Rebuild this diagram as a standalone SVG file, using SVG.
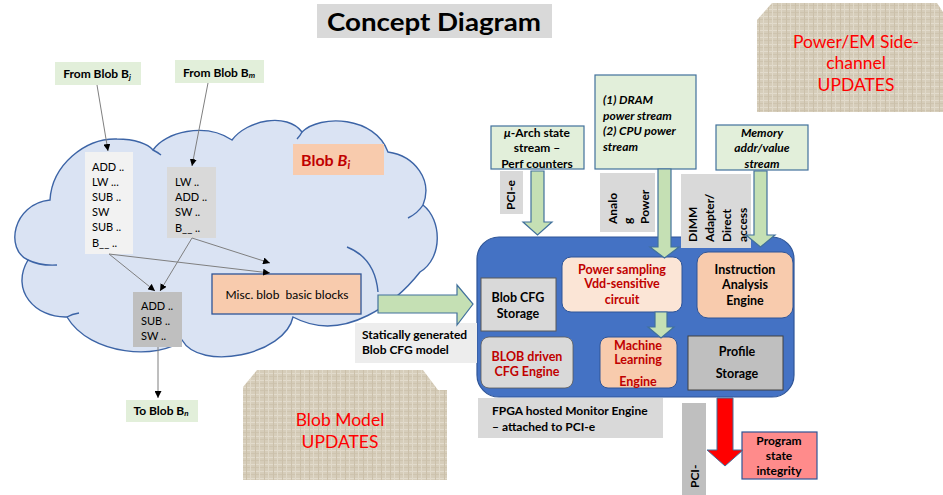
<svg xmlns="http://www.w3.org/2000/svg" width="943" height="495" viewBox="0 0 943 495">
  <defs>
    <style>
      text { font-family: Lato, "Liberation Sans", sans-serif; fill: #000; }
      .b { font-weight: bold; }
      .i { font-style: italic; }
      .red { fill: #c00000; }
      .c { text-anchor: middle; }
      .op { font-size: 11px; }
      .lbl { font-size: 12px; font-weight: bold; }
      .eng { font-size: 12.5px; font-weight: bold; }
      .upd { font-size: 17.5px; fill: #ff0000; text-anchor: middle; }
      .thin { stroke: #7f7f7f; stroke-width: 1; fill: none; marker-end: url(#tip); }
      .garrow { fill: #c5e0b4; stroke: #41719c; stroke-width: 1.2; }
      .tag { fill: #d9d9d9; }
      .seed { fill: #e2efda; stroke: #41719c; stroke-width: 1.2; }
      .cloudtail { fill: none; stroke: #3c64a6; stroke-width: 1.4; }
    </style>
    <marker id="tip" viewBox="0 0 10 10" refX="10" refY="5" markerWidth="7" markerHeight="7" orient="auto" markerUnits="userSpaceOnUse">
      <path d="M0,0 L10,5 L0,10 z" fill="#000"/>
    </marker>
    <!-- burlap-like woven texture -->
    <pattern id="weave" width="9" height="7" patternUnits="userSpaceOnUse">
      <rect width="9" height="7" fill="#d6cdba"/>
      <rect x="0" y="2" width="9" height="1" fill="#e2dbcc"/>
      <rect x="0" y="5" width="9" height="1" fill="#cec4af"/>
      <rect x="3" y="0" width="1" height="7" fill="#cbc0aa"/>
      <rect x="7" y="0" width="1" height="7" fill="#e0d9c9"/>
    </pattern>
  </defs>

  <rect width="943" height="495" fill="#fff"/>

  <!-- title -->
  <g id="title">
    <rect x="317" y="4" width="235" height="34" fill="#d9d9d9"/>
    <text x="434" y="31" class="b c" font-size="25" textLength="214" lengthAdjust="spacingAndGlyphs">Concept Diagram</text>
  </g>

  <!-- textured update notes -->
  <g id="note-power">
    <path d="M772,3 L937,3 L943,12 L943,112 L757,112 L757,20 Z" fill="url(#weave)"/>
    <text class="upd" x="856" y="48">Power/EM Side-</text>
    <text class="upd" x="856" y="69">channel</text>
    <text class="upd" x="856" y="91">UPDATES</text>
  </g>
  <g id="note-blob">
    <path d="M257,370 L423,370 L438,390 L447,390 L447,480 L243,480 L243,387 Z" fill="url(#weave)"/>
    <text class="upd" x="340" y="426">Blob Model</text>
    <text class="upd" x="340" y="448">UPDATES</text>
  </g>

  <!-- blob cloud -->
  <g id="cloud">
    <path d="M50,200 C52,165 85,138 117,139 C135,139 148,144 153,150 C165,132 205,122 232,140 C247,120 287,112 302,132 C320,114 375,116 388,152 C415,156 433,180 423,205 C442,220 443,258 420,272 C398,300 345,345 293,317 C285,355 200,372 182,340 C160,360 90,356 67,317 C35,318 10,290 28,260 C5,250 12,204 50,200 Z" fill="#dae3f3" stroke="#3c64a6" stroke-width="1.4"/>
    <path class="cloudtail" d="M28,260 Q40,266 57,265"/>
    <path class="cloudtail" d="M67,317 Q72,314 79,313"/>
    <path class="cloudtail" d="M153,150 Q157,152 161,155"/>
    <path class="cloudtail" d="M302,132 Q300,136 297,139"/>
    <path class="cloudtail" d="M423,205 Q418,213 408,218"/>
    <path class="cloudtail" d="M347,247 Q375,258 378,292"/>
  </g>

  <!-- blob Bi tag -->
  <g id="blob-bi">
    <rect x="293" y="144" width="91" height="31" fill="#f8cbad"/>
    <text x="301" y="166" class="b red" font-size="16">Blob <tspan class="i">B</tspan><tspan class="i" font-size="11" dy="3">i</tspan></text>
  </g>

  <!-- incoming / outgoing blob labels -->
  <g id="from-bj">
    <rect x="55" y="62" width="86" height="23" fill="#e2efda"/>
    <text x="97" y="78" class="lbl c">From Blob B<tspan class="i" font-size="8" dy="2">j</tspan></text>
  </g>
  <g id="from-bm">
    <rect x="175" y="60" width="89" height="23" fill="#e2efda"/>
    <text x="219" y="77" class="lbl c">From Blob B<tspan class="i" font-size="8" dy="1">m</tspan></text>
  </g>
  <g id="to-bn">
    <rect x="126" y="400" width="72" height="22" fill="#e2efda"/>
    <text x="161" y="415" class="lbl c">To Blob B<tspan class="i" font-size="8" dy="1">n</tspan></text>
  </g>

  <!-- basic blocks -->
  <g id="block-1">
    <rect x="85" y="152" width="48" height="102" fill="#f2f2f2"/>
    <text class="op" x="92" y="171">ADD ..</text>
    <text class="op" x="92" y="186">LW ...</text>
    <text class="op" x="92" y="201">SUB ..</text>
    <text class="op" x="92" y="216">SW</text>
    <text class="op" x="92" y="231">SUB ..</text>
    <text class="op" x="92" y="247">B__ ..</text>
  </g>
  <g id="block-2">
    <rect x="167" y="167" width="49" height="71" fill="#d9d9d9"/>
    <text class="op" x="175" y="186">LW ..</text>
    <text class="op" x="175" y="201">ADD ..</text>
    <text class="op" x="175" y="216">SW ..</text>
    <text class="op" x="175" y="232">B__ ..</text>
  </g>
  <g id="block-3">
    <rect x="133" y="292" width="49" height="55" fill="#bfbfbf"/>
    <text class="op" x="141" y="310">ADD ..</text>
    <text class="op" x="141" y="325">SUB ..</text>
    <text class="op" x="141" y="340">SW ..</text>
  </g>
  <g id="misc-blocks">
    <rect x="212" y="274" width="149" height="40" fill="#f8cbad" stroke="#2f5597" stroke-width="1.3"/>
    <text x="287" y="299" class="c" font-size="12">Misc. blob&#160; basic blocks</text>
  </g>

  <!-- FPGA monitor engine -->
  <g id="fpga">
    <rect x="477" y="237" width="317" height="160" rx="22" fill="#4472c4" stroke="#2f5597" stroke-width="1.2"/>
  </g>
  <g id="cfg-storage">
    <rect x="481" y="278" width="75" height="53" fill="#d9d9d9" stroke="#595959" stroke-width="1"/>
    <text x="518" y="302" class="eng c">Blob CFG</text>
    <text x="518" y="318" class="eng c">Storage</text>
  </g>
  <g id="cfg-engine">
    <rect x="481" y="337" width="92" height="51" rx="8" fill="#d9d9d9" stroke="#595959" stroke-width="0.8"/>
    <text x="527" y="361" class="eng c red">BLOB driven</text>
    <text x="527" y="376" class="eng c red">CFG Engine</text>
  </g>
  <g id="power-sampling">
    <rect x="562" y="257" width="120" height="55" rx="9" fill="#fbe5d6" stroke="#2f5597" stroke-width="1"/>
    <text x="622" y="274" class="eng c red">Power sampling</text>
    <text x="622" y="288" class="eng c red">Vdd-sensitive</text>
    <text x="622" y="304" class="eng c red">circuit</text>
  </g>
  <g id="instr-engine">
    <rect x="697" y="252" width="96" height="66" rx="11" fill="#f8cbad" stroke="#2f5597" stroke-width="1"/>
    <text x="745" y="274" class="eng c">Instruction</text>
    <text x="745" y="289" class="eng c">Analysis</text>
    <text x="745" y="305" class="eng c">Engine</text>
  </g>
  <g id="ml-engine">
    <rect x="600" y="337" width="77" height="51" rx="8" fill="#f8cbad" stroke="#2f5597" stroke-width="1"/>
    <text x="638" y="350" class="eng c red">Machine</text>
    <text x="638" y="364" class="eng c red">Learning</text>
    <text x="638" y="386" class="eng c red">Engine</text>
  </g>
  <g id="profile-storage">
    <rect x="688" y="336" width="95" height="54" fill="#bfbfbf" stroke="#404040" stroke-width="1"/>
    <text x="737" y="356" class="eng c">Profile</text>
    <text x="737" y="378" class="eng c">Storage</text>
  </g>

  <!-- side-channel sources -->
  <g id="src-perf">
    <rect x="491" y="126" width="93" height="43" class="seed"/>
    <text x="537" y="137" class="lbl c"><tspan class="i">μ</tspan>-Arch state</text>
    <text x="537" y="152" class="lbl c">stream –</text>
    <text x="537" y="168" class="lbl c">Perf counters</text>
  </g>
  <g id="src-power">
    <rect x="595" y="75" width="101" height="94" class="seed"/>
    <text x="603" y="104" class="lbl i">(1) DRAM</text>
    <text x="603" y="120" class="lbl i">power stream</text>
    <text x="603" y="135" class="lbl i">(2) CPU power</text>
    <text x="603" y="151" class="lbl i">stream</text>
  </g>
  <g id="src-mem">
    <rect x="716" y="125" width="92" height="45" class="seed"/>
    <text x="762" y="137" class="lbl i c">Memory</text>
    <text x="762" y="152" class="lbl i c">addr/value</text>
    <text x="762" y="168" class="lbl i c">stream</text>
  </g>

  <!-- link-type tags -->
  <g id="tag-pcie-top">
    <rect x="500" y="171" width="23" height="43" class="tag"/>
    <text class="lbl" transform="translate(515,210) rotate(-90)">PCI-e</text>
  </g>
  <g id="tag-analog">
    <rect x="600" y="173" width="55" height="59" class="tag"/>
    <text class="lbl" transform="translate(617,224) rotate(-90)">Analo</text>
    <text class="lbl" transform="translate(632,224) rotate(-90)">g</text>
    <text class="lbl" transform="translate(649,224) rotate(-90)">Power</text>
  </g>
  <g id="tag-dimm">
    <rect x="681" y="174" width="70" height="74" class="tag"/>
    <text class="lbl" transform="translate(697,242) rotate(-90)">DIMM</text>
    <text class="lbl" transform="translate(714,242) rotate(-90)">Adapter/</text>
    <text class="lbl" transform="translate(731,242) rotate(-90)">Direct</text>
    <text class="lbl" transform="translate(747,242) rotate(-90)">access</text>
  </g>
  <g id="tag-pcie-bottom">
    <rect x="682" y="403" width="24" height="92" fill="#bfbfbf"/>
    <text class="lbl" transform="translate(699,488) rotate(-90)">PCI-</text>
  </g>

  <!-- captions -->
  <g id="cap-static">
    <rect x="355" y="323" width="122" height="40" fill="#ededed"/>
    <text x="362" y="339" class="lbl">Statically generated</text>
    <text x="362" y="354" class="lbl">Blob CFG model</text>
  </g>
  <g id="cap-fpga">
    <rect x="478" y="398" width="185" height="40" fill="#d9d9d9"/>
    <text x="492" y="415" class="lbl">FPGA hosted Monitor Engine</text>
    <text x="492" y="431" class="lbl">– attached to PCI-e</text>
  </g>

  <!-- result -->
  <g id="integrity">
    <rect x="742" y="432" width="75" height="47" fill="#ff8b8b" stroke="#2f5597" stroke-width="1.2"/>
    <text x="779" y="445" class="lbl c">Program</text>
    <text x="779" y="460" class="lbl c">state</text>
    <text x="779" y="475" class="lbl c">integrity</text>
  </g>

  <!-- connectors -->
  <g id="connectors">
    <path class="thin" d="M97,85 L108,151"/>
    <path class="thin" d="M208,83 L192,166"/>
    <path class="thin" d="M109,254 L155,291"/>
    <path class="thin" d="M109,254 L270,273"/>
    <path class="thin" d="M192,238 L160,291"/>
    <path class="thin" d="M192,238 L270,263"/>
    <path class="thin" d="M158,347 L158,398"/>

    <polygon class="garrow" points="378,295 457,295 457,285 473,304 457,325 457,313 378,313"/>
    <polygon class="garrow" points="531,171 544,171 544,222 552,222 537.5,235 523,222 531,222"/>
    <polygon class="garrow" points="658,169 671,169 671,247 679,247 664.5,258 650,247 658,247"/>
    <polygon class="garrow" points="754,171 767,171 767,235 775,235 760.5,247 746,235 754,235"/>
    <polygon class="garrow" points="655,312 667,312 667,327 674,327 661,338 648,327 655,327"/>
    <polygon points="717,398 733,398 733,450 743,450 725,466 707,450 717,450" fill="#ff0000" stroke="#41719c" stroke-width="1"/>
  </g>
</svg>
